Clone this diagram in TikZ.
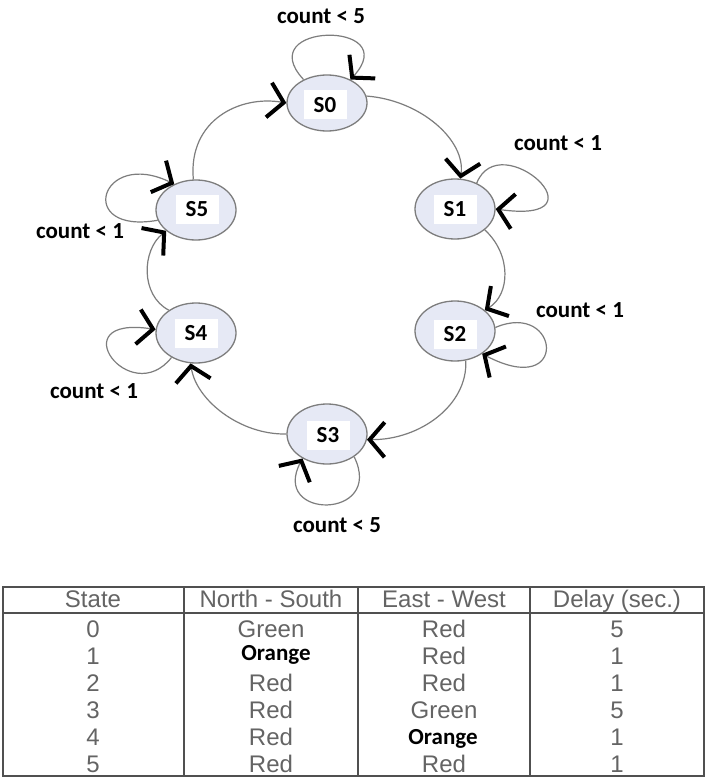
\documentclass[tikz,border=0pt]{standalone}
\usepackage{fontspec}
\newfontfamily\lblfont{Carlito}
\newfontfamily\tabfont{Liberation Sans}
\usetikzlibrary{arrows.meta,shapes.geometric}
\definecolor{nodefill}{RGB}{230,233,245}
\definecolor{edgegray}{RGB}{125,125,125}
\definecolor{tabtext}{RGB}{100,100,100}
\definecolor{tabline}{RGB}{80,80,80}
\begin{document}
\begin{tikzpicture}[x=1pt,y=-1pt,
  statenode/.style={ellipse, draw=edgegray, line width=1.3pt, fill=nodefill,
    minimum width=80pt, minimum height=60pt, inner sep=0pt},
  namebox/.style={fill=white, minimum width=43pt, minimum height=29pt, inner sep=0pt,
    font=\lblfont\bfseries\fontsize{23}{27}\selectfont},
  cond/.style={font=\lblfont\bfseries\fontsize{23}{27}\selectfont, inner sep=0pt},
  trans/.style={draw=edgegray, line width=1.2pt,
    -{Straight Barb[color=black, line width=4pt, length=15pt, width=35pt]}},
  tabtxt/.style={font=\tabfont\fontsize{24}{28}\selectfont, text=tabtext, inner sep=0pt, anchor=base},
  orng/.style={font=\lblfont\bfseries\fontsize{23}{27}\selectfont, inner sep=0pt, anchor=base}]
\useasboundingbox (0,0) rectangle (706,778);
\fill[white] (0,0) rectangle (706,778);

% states
\node[statenode, minimum height=56pt] (s0) at (327,103) {};
\node[statenode] (s1) at (455,209) {};
\node[statenode] (s2) at (455,331) {};
\node[statenode] (s3) at (327,434) {};
\node[statenode] (s4) at (196,333) {};
\node[statenode] (s5) at (196,210) {};

\node[namebox] (s0t) at (325,105) {S0};
\node[namebox] (s1t) at (455,209) {S1};
\node[namebox] (s2t) at (455,334) {S2};
\node[namebox] (s3t) at (328,435) {S3};
\node[namebox] (s4t) at (196,333) {S4};
\node[namebox] (s5t) at (197,209) {S5};

% transitions
\draw[trans] (s5.95) .. controls (188,120) and (240,95) .. (s0.180);
\draw[trans] (s0.10) .. controls (420,100) and (466,140) .. (s1.80);
\draw[trans] (s1.-35) .. controls (512,255) and (510,295) .. (s2.35);
\draw[trans] (s2.-70) .. controls (468,405) and (420,440) .. (s3.-8);
\draw[trans] (s3.180) .. controls (240,435) and (196,400) .. (s4.-100);
\draw[trans] (s4.140) .. controls (140,295) and (142,250) .. (s5.-145);

% self loops
\draw[trans] (s0.135) .. controls (250,22) and (405,20) .. (s0.45);
\draw[trans] (s1.50) .. controls (500,125) and (610,225) .. (s1.0);
\draw[trans] (s2.5) .. controls (560,300) and (570,400) .. (s2.-40);
\draw[trans] (s3.-40) .. controls (385,520) and (270,520) .. (s3.-135);
\draw[trans] (s4.-135) .. controls (130,410) and (60,315) .. (s4.175);
\draw[trans] (s5.-165) .. controls (75,235) and (100,148) .. (s5.130);

% conditions
\node[cond] (c0) at (321,16) {count < 5};
\node[cond] (c1) at (558,143) {count < 1};
\node[cond] (c2) at (580,310) {count < 1};
\node[cond] (c3) at (337,525) {count < 5};
\node[cond] (c4) at (94,391) {count < 1};
\node[cond] (c5) at (80,231) {count < 1};

% table
\draw[tabline, line width=1.5pt] (3,587) rectangle (704,776);
\draw[tabline, line width=1.5pt] (3,613) -- (704,613);
\draw[tabline, line width=1.5pt] (184,587) -- (184,776);
\draw[tabline, line width=1.5pt] (358,587) -- (358,776);
\draw[tabline, line width=1.5pt] (530,587) -- (530,776);

\node[tabtxt] (h1) at (93,607) {State};
\node[tabtxt] (h2) at (271,607) {North - South};
\node[tabtxt] (h3) at (444,607) {East - West};
\node[tabtxt] (h4) at (617,607) {Delay (sec.)};

\node[tabtxt] (a0) at (93,637) {0};
\node[tabtxt] (b0) at (271,637) {Green};
\node[tabtxt] (c0t) at (444,637) {Red};
\node[tabtxt] (d0) at (617,637) {5};

\node[tabtxt] (a1) at (93,664) {1};
\node[orng] (b1) at (276,660) {Orange};
\node[tabtxt] (c1t) at (444,664) {Red};
\node[tabtxt] (d1) at (617,664) {1};

\node[tabtxt] (a2) at (93,691) {2};
\node[tabtxt] (b2) at (271,691) {Red};
\node[tabtxt] (c2t) at (444,691) {Red};
\node[tabtxt] (d2) at (617,691) {1};

\node[tabtxt] (a3) at (93,718) {3};
\node[tabtxt] (b3) at (271,718) {Red};
\node[tabtxt] (c3t) at (444,718) {Green};
\node[tabtxt] (d3) at (617,718) {5};

\node[tabtxt] (a4) at (93,745) {4};
\node[tabtxt] (b4) at (271,745) {Red};
\node[orng] (c4t) at (443,744) {Orange};
\node[tabtxt] (d4) at (617,745) {1};

\node[tabtxt] (a5) at (93,772) {5};
\node[tabtxt] (b5) at (271,772) {Red};
\node[tabtxt] (c5t) at (444,772) {Red};
\node[tabtxt] (d5) at (617,772) {1};
\end{tikzpicture}
\end{document}
